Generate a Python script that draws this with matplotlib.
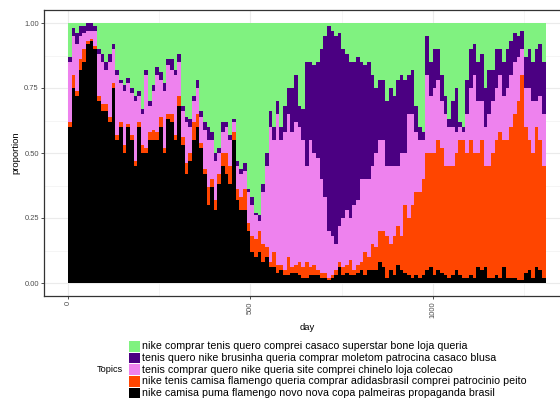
import matplotlib
matplotlib.use('Agg')
import matplotlib.pyplot as plt
from matplotlib.patches import Rectangle
import numpy as np

plt.rcParams['font.family'] = ['Liberation Sans', 'DejaVu Sans']

# Legend order (top to bottom)
topics = [
    "nike comprar tenis quero comprei casaco superstar bone loja queria",
    "tenis quero nike brusinha queria comprar moletom patrocina casaco blusa",
    "tenis comprar quero nike queria site comprei chinelo loja colecao",
    "nike tenis camisa flamengo queria comprar adidasbrasil comprei patrocinio peito",
    "nike camisa puma flamengo novo nova copa palmeiras propaganda brasil",
]
colors = ["#80F280", "#4B0082", "#EE82EE", "#FF4500", "#000000"]

# start day of each 10-day bin
bin_start = list(range(0, 1310, 10))

black = [.60,.75,.72,.82,.85,.92,.93,.90,.70,.66,
         .66,.62,.75,.55,.60,.50,.60,.55,.45,.60,
         .50,.50,.55,.55,.55,.60,.50,.63,.62,.55,
         .68,.53,.42,.47,.55,.60,.52,.42,.30,.37,
         .28,.38,.45,.42,.38,.55,.32,.28,.28,.20,
         .12,.10,.12,.08,.10,.06,.06,.04,.05,.03,
         .03,.04,.04,.03,.02,.02,.03,.03,.03,.02,
         .02,.01,.02,.03,.06,.03,.04,.03,.03,.04,
         .05,.03,.05,.05,.05,.08,.06,.02,.05,.03,
         .07,.05,.04,.03,.02,.03,.02,.03,.05,.06,
         .03,.05,.04,.03,.02,.03,.05,.03,.02,.02,
         .03,.02,.06,.05,.06,.02,.02,.03,.02,.06,
         .02,.02,.02,.01,.01,.04,.05,.02,.06,.05,
         .02]
orange = [.02,.05,.02,.04,.05,.01,.01,.01,.02,.03,
          .03,.02,.02,.02,.02,.03,.01,.02,.02,.02,
          .03,.02,.03,.04,.03,.04,.02,.02,.03,.02,
          .04,.03,.04,.03,.07,.05,.02,.02,.07,.03,
          .04,.04,.05,.08,.07,.03,.04,.05,.08,.03,
          .06,.07,.08,.07,.04,.02,.06,.03,.02,.02,
          .07,.02,.03,.05,.04,.06,.03,.04,.02,.02,
          .02,.01,.01,.02,.02,.03,.03,.06,.02,.03,
          .03,.09,.05,.10,.09,.12,.14,.16,.10,.15,
          .15,.13,.26,.22,.28,.32,.33,.37,.45,.44,
          .47,.50,.48,.42,.43,.42,.45,.52,.53,.48,
          .52,.48,.44,.50,.39,.43,.48,.52,.56,.49,
          .53,.58,.63,.69,.79,.56,.50,.48,.54,.50,
          .43]
violet = [.23,.15,.18,.09,.06,.04,.03,.06,.16,.16,
          .13,.21,.13,.23,.15,.21,.16,.16,.23,.10,
          .12,.28,.10,.15,.22,.14,.22,.19,.17,.23,
          .13,.10,.16,.10,.08,.10,.10,.15,.18,.15,
          .15,.08,.08,.10,.10,.04,.09,.09,.07,.12,
          .12,.09,.04,.20,.31,.52,.43,.58,.48,.53,
          .55,.52,.55,.52,.49,.37,.49,.43,.43,.36,
          .29,.18,.15,.10,.14,.19,.21,.16,.25,.25,
          .32,.28,.30,.30,.36,.35,.35,.27,.30,.27,
          .23,.32,.20,.40,.35,.23,.20,.15,.30,.22,
          .25,.23,.18,.20,.15,.15,.08,.05,.03,.15,
          .20,.30,.20,.15,.15,.20,.20,.20,.22,.17,
          .20,.20,.20,.17,.10,.15,.20,.20,.10,.17,
          .20]
indigo = [.02,.03,.04,.04,.03,.03,.03,.02,.02,.03,
          .03,.03,.02,.02,.01,.02,.02,.02,.02,.02,
          .02,.02,.02,.02,.03,.03,.03,.02,.04,.02,
          .03,.02,.02,.03,.02,.03,.02,.03,.05,.03,
          .03,.02,.04,.02,.02,.01,.02,.02,.03,.01,
          .03,.01,.02,.03,.05,.06,.05,.05,.05,.10,
          .10,.17,.18,.08,.12,.40,.30,.34,.37,.50,
          .62,.79,.79,.80,.74,.65,.60,.60,.55,.55,
          .45,.44,.45,.35,.25,.23,.23,.25,.30,.27,
          .33,.30,.28,.15,.17,.10,.05,.03,.15,.13,
          .15,.12,.10,.07,.03,.10,.17,.02,.02,.13,
          .15,.12,.15,.18,.15,.17,.12,.15,.10,.13,
          .15,.13,.11,.08,.07,.12,.15,.15,.20,.20,
          .20]
green = [.13,.02,.04,.01,.01,.00,.00,.01,.10,.12,
         .15,.12,.08,.18,.22,.24,.21,.25,.28,.26,
         .33,.18,.30,.24,.17,.19,.23,.14,.14,.18,
         .12,.32,.36,.37,.28,.22,.34,.38,.40,.42,
         .50,.48,.38,.38,.43,.37,.53,.56,.54,.64,
         .67,.73,.74,.62,.50,.34,.40,.30,.40,.32,
         .25,.25,.20,.32,.33,.15,.15,.16,.15,.10,
         .05,.01,.03,.05,.04,.10,.12,.15,.15,.13,
         .15,.16,.15,.20,.25,.22,.22,.30,.25,.28,
         .22,.20,.22,.20,.18,.32,.40,.42,.05,.15,
         .10,.10,.20,.28,.37,.30,.25,.38,.40,.22,
         .10,.08,.15,.12,.25,.18,.18,.10,.10,.15,
         .10,.07,.04,.05,.03,.13,.10,.15,.10,.08,
         .15]

series = [green, indigo, violet, orange, black]  # same order as topics
vals = np.array(series, dtype=float)
vals = vals / vals.sum(axis=0)

W, H = 560, 398
fig = plt.figure(figsize=(W / 100, H / 100), dpi=100)
ax = fig.add_axes([44 / W, 1 - 296 / H, 526 / W, 286 / H])

x = np.array(bin_start) + 4.5
bottom = np.zeros(len(x))
for i in range(len(topics) - 1, -1, -1):
    ax.bar(x, vals[i], width=10, bottom=bottom, color=colors[i],
           linewidth=0, align='center', zorder=2)
    bottom += vals[i]

ax.set_xlim(-66, 1376)
ax.set_ylim(-0.05, 1.05)
ax.set_xticks([0, 500, 1000])
ax.set_xticks([250, 750, 1250], minor=True)
ax.set_yticks([0, 0.25, 0.5, 0.75, 1.0])
ax.set_yticks([0.125, 0.375, 0.625, 0.875], minor=True)
ax.set_yticklabels(["0.00", "0.25", "0.50", "0.75", "1.00"])
ax.set_xticklabels(["0", "500", "1000"], rotation=90, va='top', ha='center')
ax.grid(True, which='major', color='#EBEBEB', linewidth=0.8, zorder=0)
ax.grid(True, which='minor', color='#F2F2F2', linewidth=0.5, zorder=0)
ax.set_axisbelow(True)
ax.tick_params(which='major', length=2.2, width=0.6, color='#333333',
               labelsize=5.4, labelcolor='#4D4D4D', pad=1.5)
ax.tick_params(which='minor', length=0)
for s in ax.spines.values():
    s.set_color('#333333')
    s.set_linewidth(0.9)

ax.set_xlabel("day", fontsize=6.8, labelpad=4)
ax.set_ylabel("proportion", fontsize=6.8, labelpad=2.5)

# legend
sw_x, sw_w, row_h, y0 = 129, 10.5, 11.8, 340.7
for i, (lab, col) in enumerate(zip(topics, colors)):
    top = y0 + i * row_h
    fig.patches.append(Rectangle((sw_x / W, 1 - (top + row_h - 1.0) / H),
                                 sw_w / W, (row_h - 1.0) / H,
                                 transform=fig.transFigure, facecolor=col,
                                 edgecolor='none'))
    fig.text(141.7 / W, 1 - (top + row_h / 2 - 0.5) / H, lab, fontsize=7.7,
             va='center', ha='left', color='black')
fig.text(122.7 / W, 1 - 370 / H, "Topics", fontsize=6.6,
         va='center', ha='right', color='black')

fig.savefig("out.png", dpi=100)
